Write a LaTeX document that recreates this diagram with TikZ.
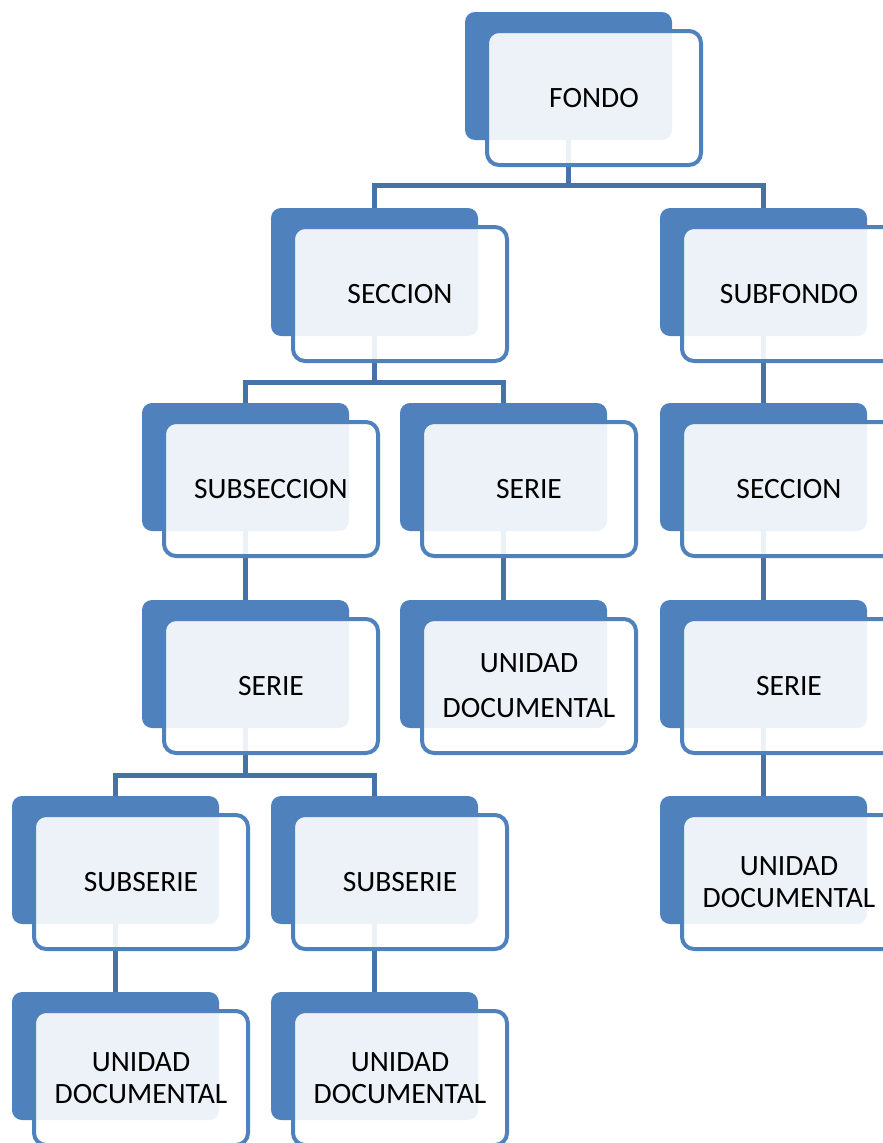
\documentclass[tikz,border=0pt]{standalone}
\usepackage{fontspec}
\setmainfont{Carlito}
\definecolor{boxblue}{HTML}{4F81BD}
\definecolor{linkblue}{HTML}{4672A8}
\begin{document}
\begin{tikzpicture}[x=1pt,y=-1pt,
  back/.style={rectangle, fill=boxblue, rounded corners=10pt,
    minimum width=207pt, minimum height=128pt, inner sep=0pt, outer sep=0pt},
  front/.style={rectangle, draw=boxblue, line width=4pt, fill=white,
    fill opacity=0.9, text opacity=1, rounded corners=12pt,
    minimum width=214pt, minimum height=134pt, inner sep=0pt, outer sep=0pt,
    align=center, font=\fontsize{29.5}{32}\selectfont},
  link/.style={draw=linkblue, line width=5pt},
  fshift/.style={shift={(25.5,22)}}]
\useasboundingbox (0,0) rectangle (883,1143);

% back (filled) shapes of every box
\node[back] (fondo-b)      at (568.5,76)  {};
\node[back] (seccion-b)    at (374.5,272) {};
\node[back] (subfondo-b)   at (763.5,272) {};
\node[back] (subseccion-b) at (245.5,467) {};
\node[back] (serie-m-b)    at (503.5,467) {};
\node[back] (seccion-r-b)  at (763.5,467) {};
\node[back] (serie-l-b)    at (245.5,664) {};
\node[back] (unidad-m-b)   at (503.5,664) {};
\node[back] (serie-r-b)    at (763.5,664) {};
\node[back] (subserie1-b)  at (115.5,860) {};
\node[back] (subserie2-b)  at (374.5,860) {};
\node[back] (unidad-r-b)   at (763.5,860) {};
\node[back] (unidad1-b)    at (115.5,1056) {};
\node[back] (unidad2-b)    at (374.5,1056) {};

% connectors
\draw[link] (fondo-b.south) -- ++(0,45);
\draw[link] (seccion-b.north) -- ++(0,-23) -| (subfondo-b.north);
\draw[link] (seccion-b.south) -- ++(0,46);
\draw[link] (subseccion-b.north) -- ++(0,-21) -| (serie-m-b.north);
\draw[link] (subfondo-b.south) -- (seccion-r-b.north);
\draw[link] (subseccion-b.south) -- (serie-l-b.north);
\draw[link] (serie-m-b.south) -- (unidad-m-b.north);
\draw[link] (seccion-r-b.south) -- (serie-r-b.north);
\draw[link] (serie-l-b.south) -- ++(0,47);
\draw[link] (subserie1-b.north) -- ++(0,-21) -| (subserie2-b.north);
\draw[link] (serie-r-b.south) -- (unidad-r-b.north);
\draw[link] (subserie1-b.south) -- (unidad1-b.north);
\draw[link] (subserie2-b.south) -- (unidad2-b.north);

% front (outlined) shapes with the labels
\node[front] (fondo)      at ([fshift]fondo-b.center)      {FONDO};
\node[front] (seccion)    at ([fshift]seccion-b.center)    {SECCION};
\node[front] (subfondo)   at ([fshift]subfondo-b.center)   {SUBFONDO};
\node[front] (subseccion) at ([fshift]subseccion-b.center) {SUBSECCION};
\node[front] (serie-m)    at ([fshift]serie-m-b.center)    {SERIE};
\node[front] (seccion-r)  at ([fshift]seccion-r-b.center)  {SECCION};
\node[front] (serie-l)    at ([fshift]serie-l-b.center)    {SERIE};
\node[front] (unidad-m)   at ([fshift]unidad-m-b.center)   {UNIDAD\\[13pt]DOCUMENTAL};
\node[front] (serie-r)    at ([fshift]serie-r-b.center)    {SERIE};
\node[front] (subserie1)  at ([fshift]subserie1-b.center)  {SUBSERIE};
\node[front] (subserie2)  at ([fshift]subserie2-b.center)  {SUBSERIE};
\node[front] (unidad-r)   at ([fshift]unidad-r-b.center)   {UNIDAD\\DOCUMENTAL};
\node[front] (unidad1)    at ([fshift]unidad1-b.center)    {UNIDAD\\DOCUMENTAL};
\node[front] (unidad2)    at ([fshift]unidad2-b.center)    {UNIDAD\\DOCUMENTAL};
\end{tikzpicture}
\end{document}
